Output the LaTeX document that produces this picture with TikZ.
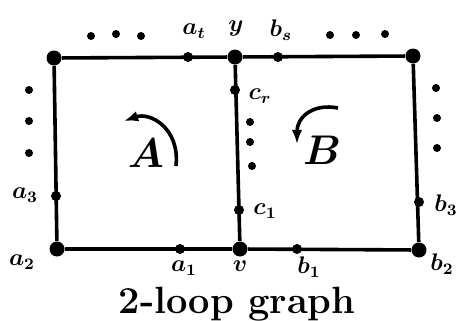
\documentclass[tikz,border=0pt]{standalone}
\usepackage{tikz}
\usetikzlibrary{arrows.meta}
\tikzset{
  bigdot/.style={circle,fill,inner sep=0pt,minimum size=7.5pt},
  smalldot/.style={circle,fill,inner sep=0pt,minimum size=5pt},
  elldot/.style={circle,fill,inner sep=0pt,minimum size=4pt},
  edge/.style={line width=1.8pt},
  lbl/.style={font=\large\boldmath},
}
\begin{document}
\begin{tikzpicture}[x=0.5pt,y=-0.5pt]
  \useasboundingbox (0,0) rectangle (461,321);
  % corner vertices
  \node[bigdot] (tl) at (54,58) {};
  \node[bigdot] (y) at (235,57) {};
  \node[bigdot] (tr) at (413,56) {};
  \node[bigdot] (bl) at (57,249) {};
  \node[bigdot] (v) at (240,249) {};
  \node[bigdot] (br) at (419,250) {};
  % the two loops
  \draw[edge] (tl) -- (y) -- (tr) -- (br) -- (v) -- (bl) -- (tl);
  \draw[edge] (y) -- (v);
  % vertices on the edges
  \node[smalldot] (at) at (188,57) {};
  \node[smalldot] (bs) at (278,57) {};
  \node[smalldot] (cr) at (235,90) {};
  \node[smalldot] (c1) at (239,210) {};
  \node[smalldot] (a3) at (56,196) {};
  \node[smalldot] (a1) at (180,249) {};
  \node[smalldot] (b1) at (297,249) {};
  \node[smalldot] (b3) at (419,202) {};
  % omitted vertices
  \foreach \x/\y in {91/36,116/34,141/36,330/35,356/35,385/34,
                     29/90,29/121,29/153,436/88,437/118,437/148,
                     250/122,250/142,252/166}{
    \node[elldot] (d\x\y) at (\x,\y) {};
  }
  % labels
  \node[lbl] (lat) at (194,31) {$a_t$};
  \node[lbl] (ly) at (236,29) {$y$};
  \node[lbl] (lbs) at (281,30) {$b_s$};
  \node[lbl] (lcr) at (260,96) {$c_r$};
  \node[lbl] (lc1) at (265,211) {$c_1$};
  \node[lbl] (la3) at (25,195) {$a_3$};
  \node[lbl] (la2) at (22,262) {$a_2$};
  \node[lbl] (la1) at (184,268) {$a_1$};
  \node[lbl] (lv) at (240,266) {$v$};
  \node[lbl] (lb1) at (309,267) {$b_1$};
  \node[lbl] (lb3) at (446,205) {$b_3$};
  \node[lbl] (lb2) at (442,264) {$b_2$};
  % loop orientations
  \node[font=\huge\boldmath] (A) at (146,153) {$A$};
  \node[font=\huge\boldmath] (B) at (322,150) {$B$};
  \draw[edge,-{Latex[length=2.5mm]}] (176,166) .. controls (180,128) and (150,112) .. (124,121);
  \draw[edge,-{Latex[length=2.5mm]}] (338,108) .. controls (312,103) and (297,118) .. (297,144);
  % caption
  \node[font=\fontsize{19}{23}\selectfont\bfseries] (cap) at (237,304) {2-loop graph};
\end{tikzpicture}
\end{document}
